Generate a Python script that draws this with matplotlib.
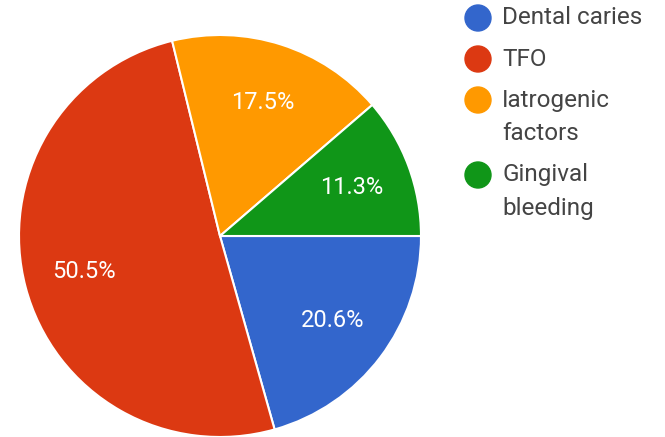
import matplotlib.pyplot as plt
from matplotlib.patches import Circle

plt.rcParams['font.family'] = ['Roboto', 'DejaVu Sans']

# slice data
labels = ['Dental caries', 'TFO', 'Iatrogenic\nfactors', 'Gingival\nbleeding']
values = [20.6, 50.5, 17.5, 11.3]
colors = ['#3366CC', '#DC3912', '#FF9900', '#109618']

fig = plt.figure(figsize=(6.65, 4.37), dpi=100)

# pie axes, placed so the circle sits like the reference
ax = fig.add_axes([17 / 665, -2 / 437, 406 / 665, 406 / 437])
wedges, texts, autotexts = ax.pie(
    values, colors=colors, startangle=0, counterclock=False,
    autopct='%1.1f%%', pctdistance=0.70,
    wedgeprops={'edgecolor': 'white', 'linewidth': 1.5},
    textprops={'color': 'white', 'fontsize': 17})
# values add to 99.9, so show them as given rather than re-normalised
for t, v in zip(autotexts, values):
    t.set_text(f'{v}%')
ax.set_xlim(-1.01, 1.01)
ax.set_ylim(-1.01, 1.01)
ax.set_aspect('equal')

# legend drawn by hand (pixel coords)
lg = fig.add_axes([0, 0, 1, 1])
lg.set_xlim(0, 665)
lg.set_ylim(437, 0)
lg.axis('off')
y = 18
for lab, col in zip(labels, colors):
    lg.add_patch(Circle((478, y), 13, color=col))
    lines = lab.split('\n')
    for k, ln in enumerate(lines):
        lg.text(502, y + 34 * k, ln, fontsize=17.5, color='#444444',
                va='center', ha='left')
    y += 41 + 34 * (len(lines) - 1)

fig.savefig('out.png', dpi=100)
